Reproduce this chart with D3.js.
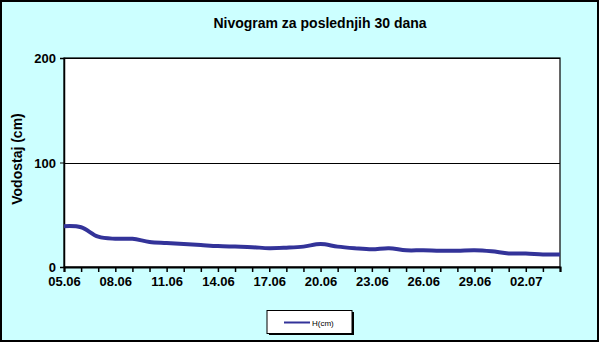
<!DOCTYPE html>
<html><head><meta charset="utf-8">
<script src="https://cdn.jsdelivr.net/npm/d3@7"></script>
<style>body{margin:0;padding:0;background:#fff}svg{display:block}text{font-family:"Liberation Sans",Arial,sans-serif}</style>
</head><body>
<script>
const dates = ["05.06","06.06","07.06","08.06","09.06","10.06","11.06","12.06","13.06","14.06","15.06","16.06","17.06","18.06","19.06","20.06","21.06","22.06","23.06","24.06","25.06","26.06","27.06","28.06","29.06","30.06","01.07","02.07","03.07","04.07"];
const levels = [39,38,29,27,27,24,23,22,21,20,19.5,19,18,18.5,19.5,22,19.5,18,17,18,16,16,15.5,15.5,16,15,13,13,12,12];
const yTicks = [0,100,200];
const seriesName = "H(cm)";

const W=600,H=343;
const svg=d3.select("body").append("svg").attr("width",W).attr("height",H);
svg.append("rect").attr("x",1).attr("y",1).attr("width",597).attr("height",340).attr("fill","#CCFFFF").attr("stroke","#000").attr("stroke-width",2);

const L=64,R=560,T=58,B=267;
const x=d3.scalePoint().domain(dates).range([L,R]);
const y=d3.scaleLinear().domain([0,200]).range([B,T]);

svg.append("rect").attr("x",L).attr("y",T).attr("width",R-L).attr("height",B-T).attr("fill","#fff").attr("stroke","#000").attr("stroke-width",1.2);

svg.append("g").selectAll("line").data(yTicks).join("line")
 .attr("x1",L).attr("x2",R).attr("y1",d=>Math.round(y(d))+0.5).attr("y2",d=>Math.round(y(d))+0.5)
 .attr("stroke","#000").attr("stroke-width",1);

const ya=svg.append("g").attr("transform",`translate(${L},0)`)
 .call(d3.axisLeft(y).tickValues(yTicks).tickSize(4).tickPadding(4));
ya.select(".domain").attr("stroke","#000").attr("stroke-width",1.5);
ya.selectAll("text").attr("font-size",13).attr("font-weight","bold").attr("fill","#000").attr("dy","0.35em");

const xa=svg.append("g").attr("transform",`translate(0,${B})`)
 .call(d3.axisBottom(x).tickSize(5).tickPadding(5).tickFormat((d,i)=>i%3===0?d:""));
xa.select(".domain").attr("stroke","#000").attr("stroke-width",2);
xa.selectAll("line").attr("stroke-width",1.5);
xa.selectAll("text").attr("font-size",13).attr("font-weight","bold").attr("fill","#000");

const line=d3.line().x((d,i)=>x(dates[i])).y(d=>y(d)).curve(d3.curveCatmullRom.alpha(0.5));
svg.append("path").datum(levels).attr("d",line).attr("fill","none").attr("stroke","#333399").attr("stroke-width",4).attr("stroke-linejoin","round");

svg.append("text").attr("x",320).attr("y",27.5).attr("text-anchor","middle").attr("font-size",14).attr("font-weight","bold").attr("fill","#000").text("Nivogram za poslednjih 30 dana");
svg.append("text").attr("transform","translate(21.5,159) rotate(-90)").attr("text-anchor","middle").attr("font-size",14).attr("font-weight","bold").attr("fill","#000").text("Vodostaj (cm)");

const lg=svg.append("g");
lg.append("rect").attr("x",269).attr("y",312).attr("width",85).attr("height",23).attr("fill","#000");
lg.append("rect").attr("x",267).attr("y",310.5).attr("width",85).attr("height",23).attr("fill","#fff").attr("stroke","#000").attr("stroke-width",1);
lg.append("line").attr("x1",284).attr("x2",310).attr("y1",322.5).attr("y2",322.5).attr("stroke","#333399").attr("stroke-width",2);
lg.append("text").attr("x",312).attr("y",325.5).attr("font-size",8).attr("fill","#000").text(seriesName);
</script>
</body></html>
